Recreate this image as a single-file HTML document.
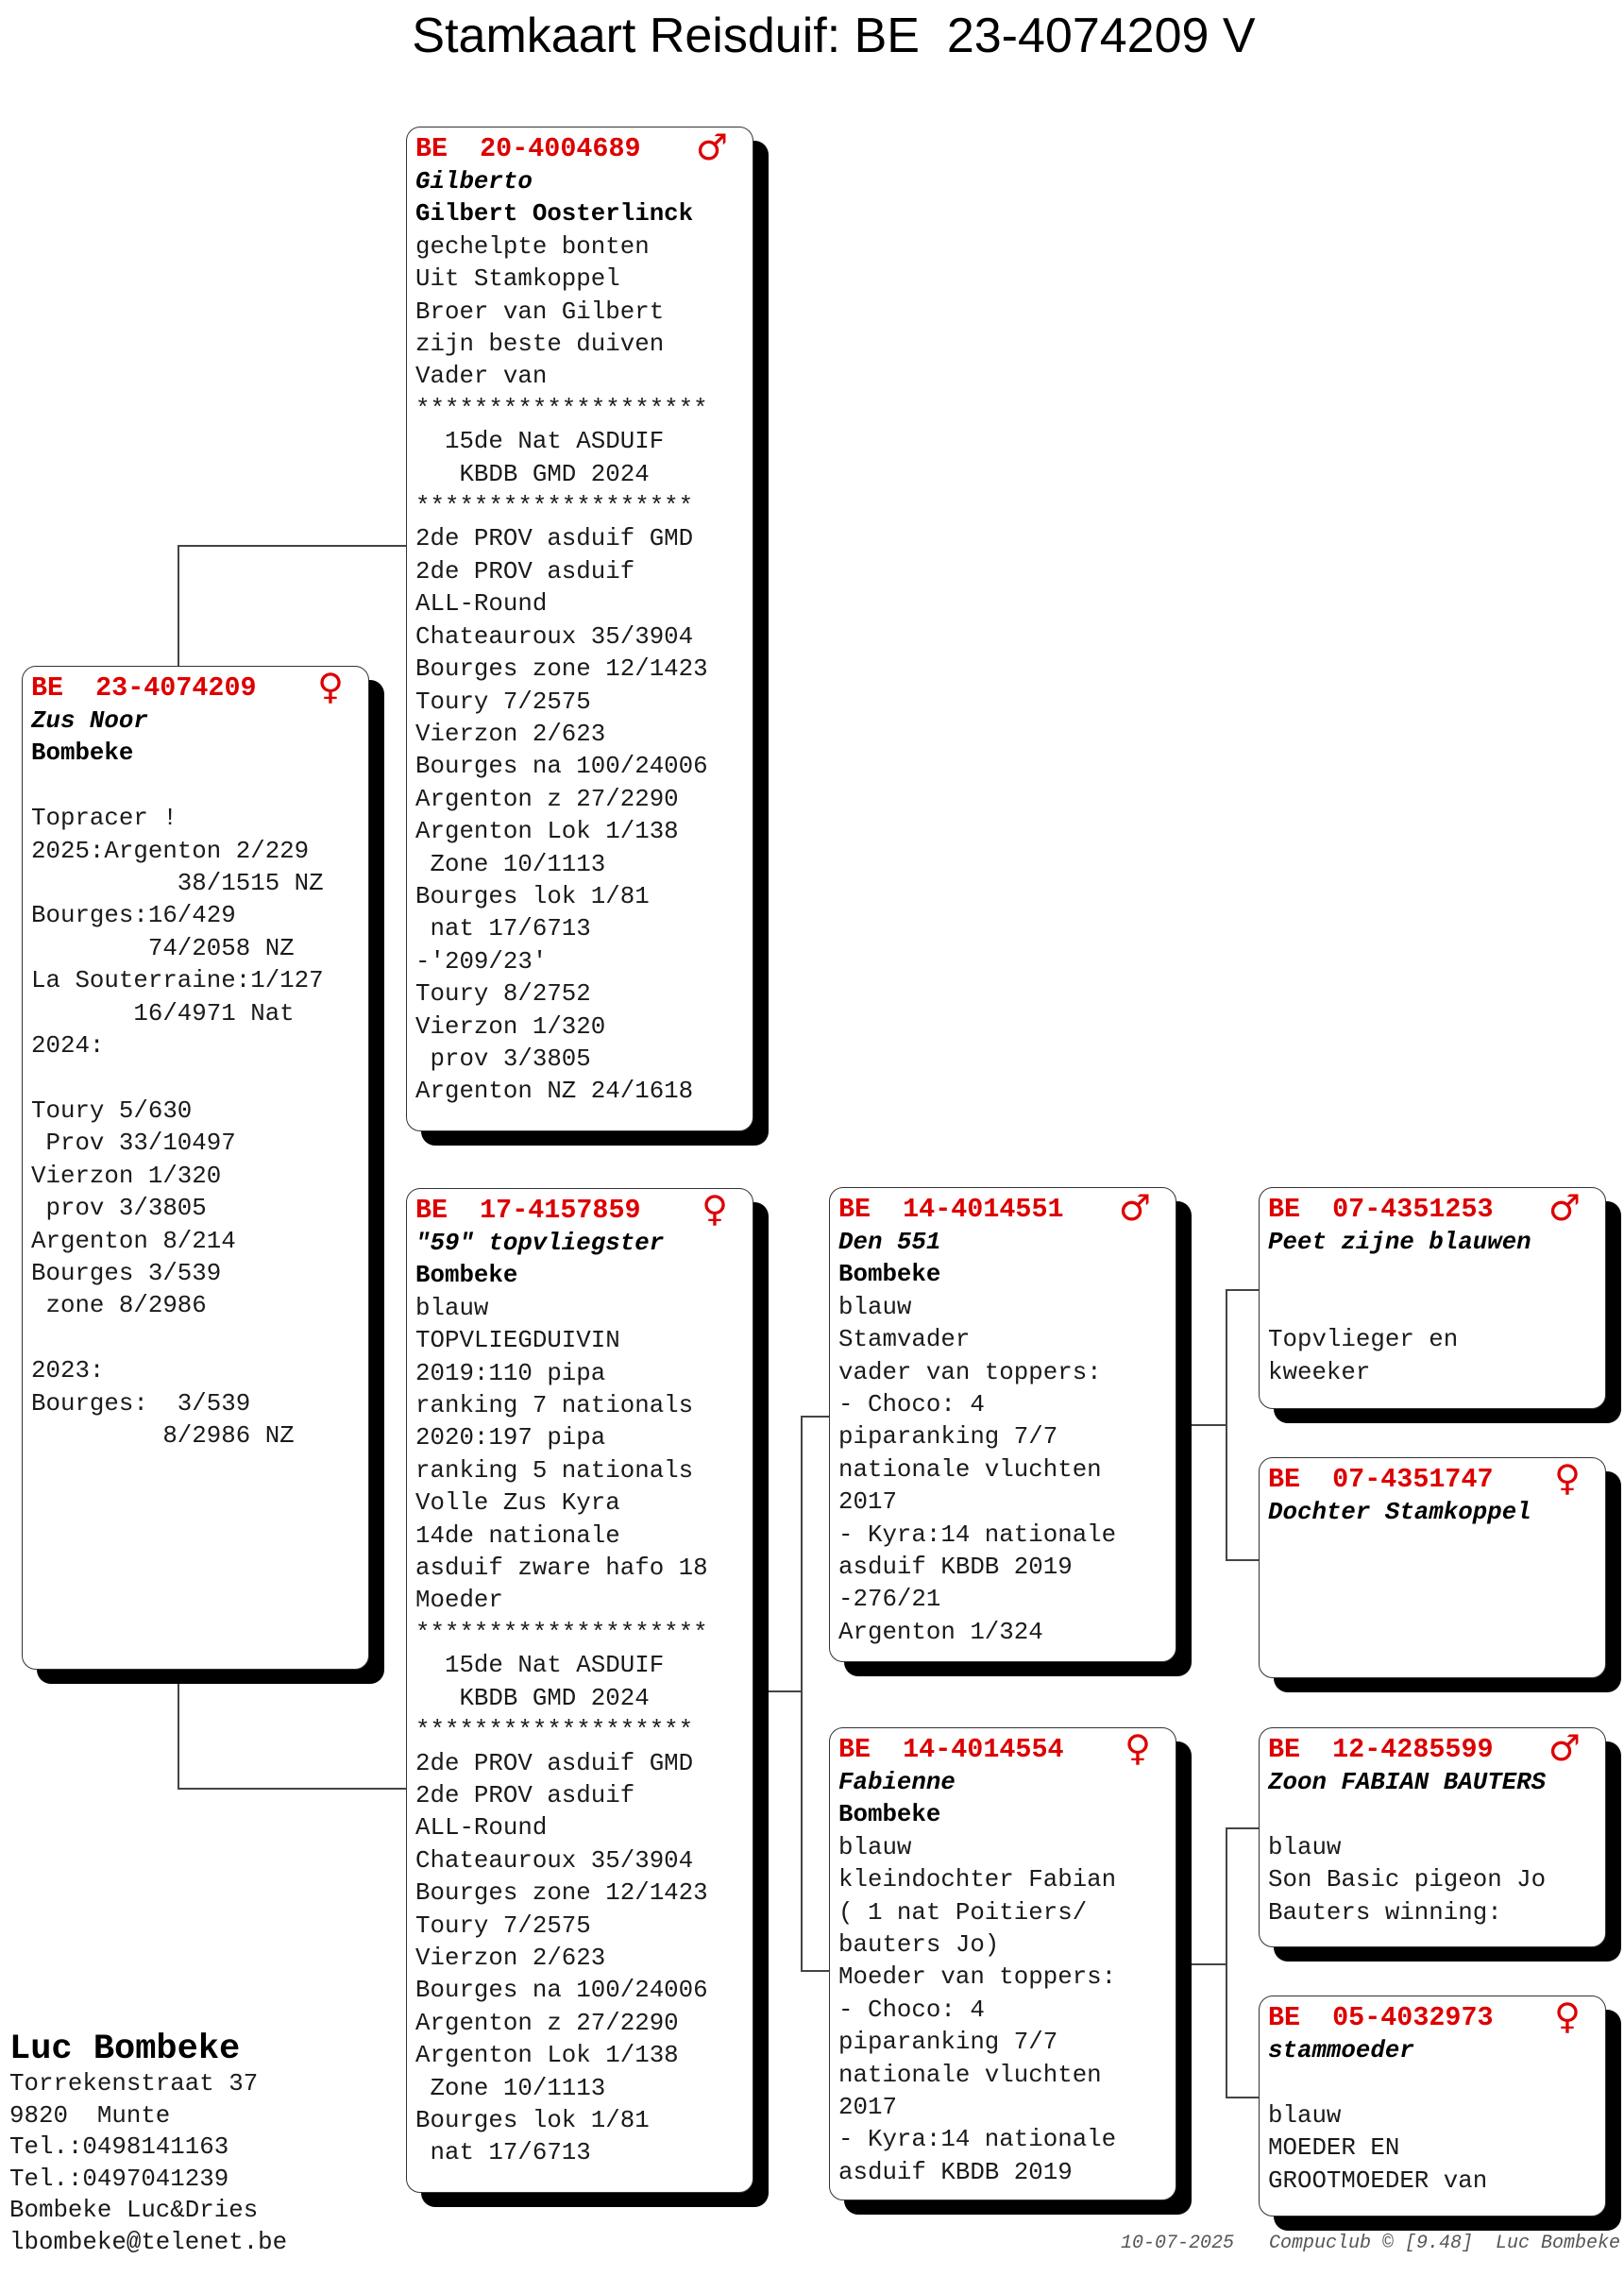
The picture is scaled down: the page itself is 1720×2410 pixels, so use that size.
<!DOCTYPE html>
<html><head><meta charset="utf-8">
<style>
html,body{margin:0;padding:0;background:#fff;}
body{width:1720px;height:2410px;position:relative;overflow:hidden;font-family:"Liberation Mono","DejaVu Sans Mono",monospace;color:#1a1a1a;}
.title{position:absolute;left:0;width:1766px;top:8px;height:60px;line-height:60px;text-align:center;font-family:"Liberation Sans",Arial,sans-serif;font-size:52px;color:#000;white-space:pre;}
.sh{position:absolute;background:#000;border-radius:15px;}
.box{position:absolute;background:#fff;border:1.5px solid #333;border-radius:15px;box-sizing:border-box;}
.box pre{margin:0;position:absolute;left:9px;top:5px;font-family:"Liberation Mono","DejaVu Sans Mono",monospace;font-size:25.8px;line-height:34.4px;color:#1a1a1a;}
.box pre .h{display:block;font-size:28.4px;font-weight:bold;color:#dd0000;line-height:36px;}
.box pre .bi{font-weight:bold;font-style:italic;color:#000;}
.box pre .b{font-weight:bold;color:#000;}
.sx{position:absolute;top:2px;right:26px;color:#dd0000;font-family:"DejaVu Sans",sans-serif;font-size:38px;line-height:38px;}
.l{position:absolute;background:#444;}
.foot{position:absolute;font-family:"Liberation Mono",monospace;font-style:italic;font-size:20px;color:#555;white-space:pre;line-height:24px;}
.addr{position:absolute;left:10px;top:2150px;margin:0;font-family:"Liberation Mono",monospace;font-size:25.8px;line-height:33.6px;color:#1a1a1a;}
.addr .n{font-size:37px;font-weight:bold;color:#000;line-height:40px;display:block;}
</style></head><body>
<div class="title">Stamkaart Reisduif: BE  23-4074209 V</div>

<div class="l" style="left:188px;top:577px;width:1.5px;height:130px"></div>
<div class="l" style="left:188px;top:577px;width:243px;height:1.5px"></div>
<div class="l" style="left:188px;top:1770px;width:1.5px;height:125px"></div>
<div class="l" style="left:188px;top:1893px;width:243px;height:1.5px"></div>

<div class="l" style="left:797px;top:1790px;width:53px;height:1.5px"></div>
<div class="l" style="left:848px;top:1499px;width:1.5px;height:589px"></div>
<div class="l" style="left:848px;top:1499px;width:31px;height:1.5px"></div>
<div class="l" style="left:848px;top:2086px;width:31px;height:1.5px"></div>

<div class="l" style="left:1244px;top:1508px;width:56px;height:1.5px"></div>
<div class="l" style="left:1298px;top:1365px;width:1.5px;height:288px"></div>
<div class="l" style="left:1298px;top:1365px;width:36px;height:1.5px"></div>
<div class="l" style="left:1298px;top:1651px;width:36px;height:1.5px"></div>

<div class="l" style="left:1244px;top:2079px;width:56px;height:1.5px"></div>
<div class="l" style="left:1298px;top:1935px;width:1.5px;height:287px"></div>
<div class="l" style="left:1298px;top:1935px;width:36px;height:1.5px"></div>
<div class="l" style="left:1298px;top:2220px;width:36px;height:1.5px"></div>

<div class="sh" style="left:446px;top:149px;width:368px;height:1064px"></div>
<div class="box" style="left:430px;top:134px;width:368px;height:1064px">
<span class="sx">♂</span>
<pre><span class="h">BE  20-4004689</span><span class="bi">Gilberto</span>
<span class="b">Gilbert Oosterlinck</span>
gechelpte bonten
Uit Stamkoppel
Broer van Gilbert
zijn beste duiven
Vader van
********************
  15de Nat ASDUIF
   KBDB GMD 2024
*******************
2de PROV asduif GMD
2de PROV asduif
ALL-Round
Chateauroux 35/3904
Bourges zone 12/1423
Toury 7/2575
Vierzon 2/623
Bourges na 100/24006
Argenton z 27/2290
Argenton Lok 1/138
 Zone 10/1113
Bourges lok 1/81
 nat 17/6713
-'209/23'
Toury 8/2752
Vierzon 1/320
 prov 3/3805
Argenton NZ 24/1618</pre></div>

<div class="sh" style="left:39px;top:720px;width:368px;height:1063px"></div>
<div class="box" style="left:23px;top:705px;width:368px;height:1063px">
<span class="sx">♀</span>
<pre><span class="h">BE  23-4074209</span><span class="bi">Zus Noor</span>
<span class="b">Bombeke</span>

Topracer !
2025:Argenton 2/229
          38/1515 NZ
Bourges:16/429
        74/2058 NZ
La Souterraine:1/127
       16/4971 Nat
2024:

Toury 5/630
 Prov 33/10497
Vierzon 1/320
 prov 3/3805
Argenton 8/214
Bourges 3/539
 zone 8/2986

2023:
Bourges:  3/539
         8/2986 NZ</pre></div>

<div class="sh" style="left:446px;top:1273px;width:368px;height:1064px"></div>
<div class="box" style="left:430px;top:1258px;width:368px;height:1064px">
<span class="sx">♀</span>
<pre><span class="h">BE  17-4157859</span><span class="bi">"59" topvliegster</span>
<span class="b">Bombeke</span>
blauw
TOPVLIEGDUIVIN
2019:110 pipa
ranking 7 nationals
2020:197 pipa
ranking 5 nationals
Volle Zus Kyra
14de nationale
asduif zware hafo 18
Moeder
********************
  15de Nat ASDUIF
   KBDB GMD 2024
*******************
2de PROV asduif GMD
2de PROV asduif
ALL-Round
Chateauroux 35/3904
Bourges zone 12/1423
Toury 7/2575
Vierzon 2/623
Bourges na 100/24006
Argenton z 27/2290
Argenton Lok 1/138
 Zone 10/1113
Bourges lok 1/81
 nat 17/6713</pre></div>

<div class="sh" style="left:894px;top:1272px;width:368px;height:503px"></div>
<div class="box" style="left:878px;top:1257px;width:368px;height:503px">
<span class="sx">♂</span>
<pre><span class="h">BE  14-4014551</span><span class="bi">Den 551</span>
<span class="b">Bombeke</span>
blauw
Stamvader
vader van toppers:
- Choco: 4
piparanking 7/7
nationale vluchten
2017
- Kyra:14 nationale
asduif KBDB 2019
-276/21
Argenton 1/324</pre></div>

<div class="sh" style="left:894px;top:1844px;width:368px;height:501px"></div>
<div class="box" style="left:878px;top:1829px;width:368px;height:501px">
<span class="sx">♀</span>
<pre><span class="h">BE  14-4014554</span><span class="bi">Fabienne</span>
<span class="b">Bombeke</span>
blauw
kleindochter Fabian
( 1 nat Poitiers/
bauters Jo)
Moeder van toppers:
- Choco: 4
piparanking 7/7
nationale vluchten
2017
- Kyra:14 nationale
asduif KBDB 2019</pre></div>

<div class="sh" style="left:1349px;top:1272px;width:368px;height:235px"></div>
<div class="box" style="left:1333px;top:1257px;width:368px;height:235px">
<span class="sx">♂</span>
<pre><span class="h">BE  07-4351253</span><span class="bi">Peet zijne blauwen</span>


Topvlieger en
kweeker</pre></div>

<div class="sh" style="left:1349px;top:1558px;width:368px;height:234px"></div>
<div class="box" style="left:1333px;top:1543px;width:368px;height:234px">
<span class="sx">♀</span>
<pre><span class="h">BE  07-4351747</span><span class="bi">Dochter Stamkoppel</span></pre></div>

<div class="sh" style="left:1349px;top:1844px;width:368px;height:233px"></div>
<div class="box" style="left:1333px;top:1829px;width:368px;height:233px">
<span class="sx">♂</span>
<pre><span class="h">BE  12-4285599</span><span class="bi">Zoon FABIAN BAUTERS</span>

blauw
Son Basic pigeon Jo
Bauters winning:</pre></div>

<div class="sh" style="left:1349px;top:2128px;width:368px;height:234px"></div>
<div class="box" style="left:1333px;top:2113px;width:368px;height:234px">
<span class="sx">♀</span>
<pre><span class="h">BE  05-4032973</span><span class="bi">stammoeder</span>

blauw
MOEDER EN
GROOTMOEDER van</pre></div>

<pre class="addr"><span class="n">Luc Bombeke</span>Torrekenstraat 37
9820  Munte
Tel.:0498141163
Tel.:0497041239
Bombeke Luc&amp;Dries
lbombeke@telenet.be</pre>

<div class="foot" style="left:1187px;top:2364px">10-07-2025</div>
<div class="foot" style="left:1344px;top:2364px">Compuclub © [9.48]  Luc Bombeke</div>
</body></html>
